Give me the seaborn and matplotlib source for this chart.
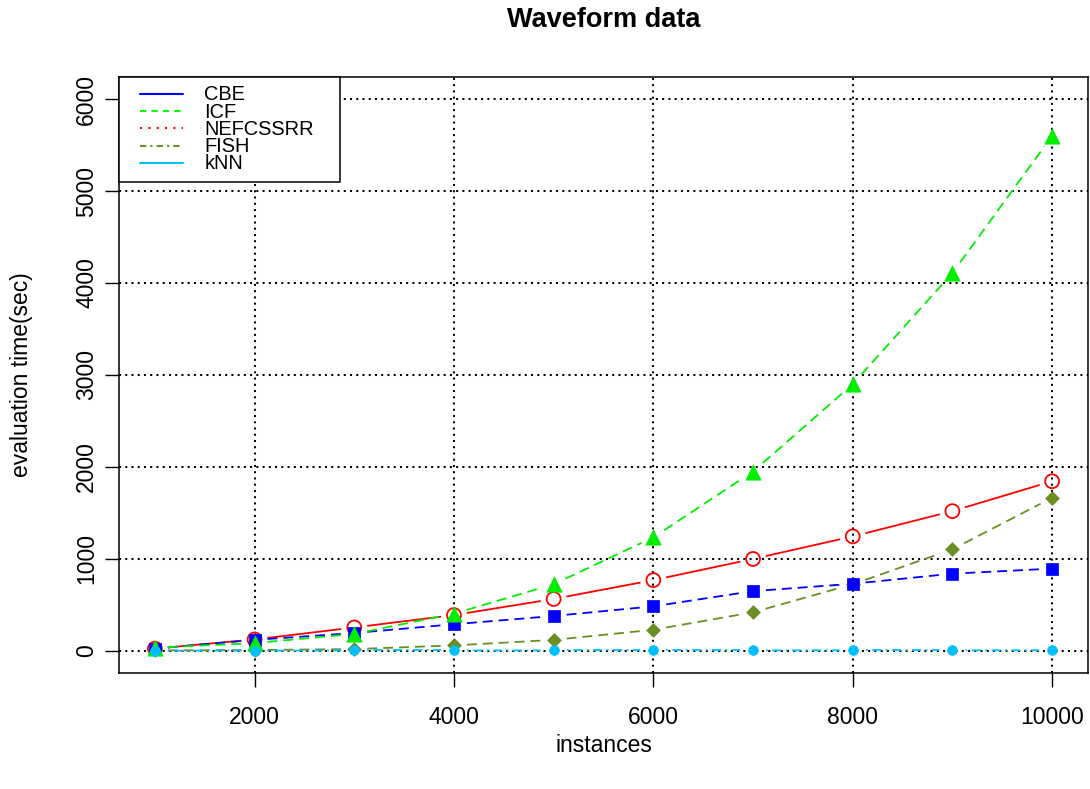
import matplotlib
matplotlib.use("Agg")
import matplotlib.pyplot as plt
import seaborn as sns
import numpy as np
import pandas as pd
from matplotlib.lines import Line2D
from matplotlib.legend_handler import HandlerLine2D

# ---- data ----
instances = [1000, 2000, 3000, 4000, 5000, 6000, 7000, 8000, 9000, 10000]
cbe = [25, 120, 195, 290, 380, 485, 650, 730, 840, 895]
icf = [35, 85, 185, 405, 725, 1235, 1950, 2900, 4110, 5600]
nefcssrr = [25, 125, 255, 390, 565, 770, 1000, 1245, 1520, 1845]
fish = [5, 10, 20, 60, 120, 230, 420, 725, 1105, 1665]
knn = [3, 4, 5, 5, 6, 6, 6, 7, 7, 8]
series_names = ["CBE", "ICF", "NEFCSSRR", "FISH", "kNN"]
x_ticks = [2000, 4000, 6000, 8000, 10000]
y_ticks = [0, 1000, 2000, 3000, 4000, 5000, 6000]

title = "Waveform data"
xlabel = "instances"
ylabel = "evaluation time(sec)"

sns.set_theme(style="white")
plt.rcParams["font.family"] = ["Liberation Sans", "DejaVu Sans"]
plt.rcParams["text.color"] = "black"
plt.rcParams["axes.labelcolor"] = "black"
plt.rcParams["xtick.color"] = "black"
plt.rcParams["ytick.color"] = "black"

fig = plt.figure(figsize=(10.9, 7.89), dpi=100)
ax = fig.add_axes([119 / 1090, 1 - 673 / 789, 969 / 1090, 596 / 789])
ax.set_xlim(640, 10360)
ax.set_ylim(-240, 6240)

data = {"CBE": cbe, "ICF": icf, "NEFCSSRR": nefcssrr, "FISH": fish, "kNN": knn}
styles = {
    "NEFCSSRR": dict(color="#FF0000", ls="-", marker="o", s=10.0, open=True),
    "FISH": dict(color="#6B8E23", ls=(0, (5.5, 3.3)), marker="D", s=7.0, open=False),
    "CBE": dict(color="#0000FF", ls=(0, (5.5, 3.3)), marker="s", s=8.0, open=False),
    "ICF": dict(color="#00EE00", ls=(0, (5.5, 3.3)), marker="^", s=11.0, open=False),
    "kNN": dict(color="#00BFFF", ls=(0, (1, 2.5, 5, 2.5)), marker="o", s=7.0, open=False),
}
draw_order = ["NEFCSSRR", "FISH", "CBE", "ICF", "kNN"]

GAP_PX = 13.0  # gap left around each point (R type = "b")
to_disp = ax.transData
to_data = ax.transData.inverted()

z = 3
for name in draw_order:
    st = styles[name]
    ys = data[name]
    pts = to_disp.transform(np.column_stack([instances, ys]))
    for i in range(len(instances) - 1):
        a, b = pts[i], pts[i + 1]
        d = b - a
        L = np.hypot(*d)
        if L <= 2 * GAP_PX:
            continue
        u = d / L
        seg = to_data.transform(np.vstack([a + u * GAP_PX, b - u * GAP_PX]))
        ax.plot(seg[:, 0], seg[:, 1], color=st["color"], lw=1.3, linestyle=st["ls"],
                zorder=z, solid_capstyle="butt", dash_capstyle="butt")
    df = pd.DataFrame({"instances": instances, "time": ys})
    if st["open"]:
        sns.scatterplot(data=df, x="instances", y="time", ax=ax, marker=st["marker"],
                        s=st["s"] ** 2, facecolors="none", edgecolors=st["color"],
                        linewidth=1.3, zorder=z + 0.5, legend=False)
    else:
        sns.scatterplot(data=df, x="instances", y="time", ax=ax, marker=st["marker"],
                        s=st["s"] ** 2, color=st["color"], edgecolor=st["color"],
                        linewidth=0.5, zorder=z + 0.5, legend=False)
    z += 1

ax.set_xlim(640, 10360)
ax.set_ylim(-240, 6240)
ax.set_xticks(x_ticks)
ax.set_yticks(y_ticks)
ax.set_xticklabels([str(t) for t in x_ticks], fontsize=16.5)
ax.set_yticklabels([str(t) for t in y_ticks], fontsize=16.5, rotation=90, va="center")
ax.tick_params(axis="both", which="major", direction="out", length=10, width=1.0,
               color="black", labelcolor="black", bottom=True, left=True)
ax.tick_params(axis="x", pad=14)
ax.tick_params(axis="y", pad=5)

for sp in ax.spines.values():
    sp.set_visible(True)
    sp.set_color("black")
    sp.set_linewidth(1.1)

ax.grid(True, color="black", linestyle=(0, (1, 2.1)), linewidth=1.45)
ax.set_axisbelow(False)
for gl in ax.get_xgridlines() + ax.get_ygridlines():
    gl.set_zorder(20)

ax.set_xlabel(xlabel, fontsize=16.5, color="black")
ax.xaxis.set_label_coords(0.5, (673 - 746) / 596)
ax.xaxis.label.set_va("center")
ax.set_ylabel(ylabel, fontsize=16.5, color="black")
ax.yaxis.set_label_coords((22 - 119) / 969, 0.5)
ax.yaxis.label.set_va("center")

ax.text(0.5, (673 - 20) / 596, title, transform=ax.transAxes, ha="center", va="center",
        fontsize=19.5, fontweight="bold", color="black")

# legend (as in the original, legend line types differ from the drawn ones)
leg_styles = [("#0000FF", "-"), ("#00FF00", (0, (3, 2.5))), ("#FF0000", (0, (1, 3))),
              ("#6B8E23", (0, (3, 2, 1, 2))), ("#00BFFF", "-")]
handles = [Line2D([], [], color=c, linestyle=ls, linewidth=1.5) for c, ls in leg_styles]
leg = ax.legend(handles, series_names, loc="upper left", bbox_to_anchor=(0.0, 1.0, 221 / 969, 0.0),
                mode="expand", borderaxespad=0.0, fontsize=14.4, frameon=True, fancybox=False,
                framealpha=1.0, edgecolor="black", borderpad=0.42, labelspacing=-0.09,
                handlelength=2.8, handleheight=0.5, handletextpad=1.04,
                handler_map={Line2D: HandlerLine2D(xpad=0.62)})
leg.get_frame().set_linewidth(1.1)
leg.set_zorder(30)
for t in leg.get_texts():
    t.set_color("black")

fig.savefig("out.png", dpi=100)
